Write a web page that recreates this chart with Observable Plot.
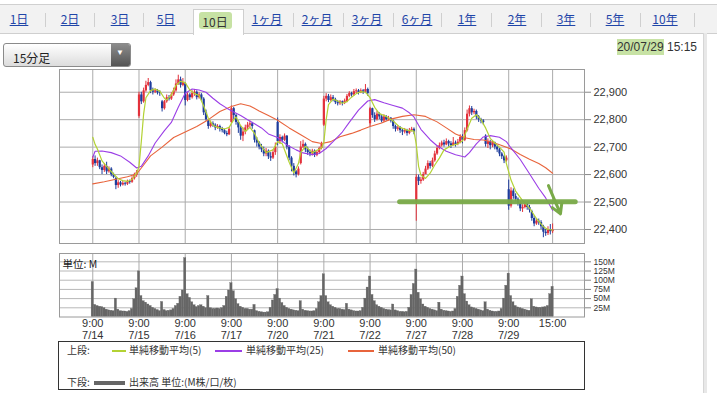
<!DOCTYPE html>
<html><head><meta charset="utf-8">
<script src="https://cdn.jsdelivr.net/npm/d3@7"></script>
<script src="https://cdn.jsdelivr.net/npm/@observablehq/plot@0.6"></script>
<style>
body{margin:0;width:717px;height:393px;overflow:hidden;background:#fff;position:relative;font-family:"Liberation Sans","Noto Sans CJK JP",sans-serif;color:#333}
.abs{position:absolute}
#tabbar{left:0;top:4px;width:717px;height:28px;background:#f2f2f2;border-top:1px solid #d0d0d0;border-bottom:1px solid #cfcfcf}
.tab{position:absolute;top:12px;transform:translateX(-50%);font:12px "Noto Sans CJK JP",sans-serif;color:#1f45a8;text-decoration:underline;line-height:14px;white-space:nowrap}
.sep{position:absolute;top:13px;width:1px;height:14px;background:#cfcfcf}
#seltab{left:193px;top:9px;width:49px;height:25px;background:#fff;border:1px solid #cfcfcf;border-bottom:none}
#selhl{left:199px;top:12px;width:33px;height:17px;background:#c7e2a4;border-radius:3px;filter:blur(0.6px)}
#seltxt{left:215px;top:13px;transform:translateX(-50%);font:12px "Noto Sans CJK JP",sans-serif;color:#333}
#dd{left:3px;top:43px;width:126px;height:22px;border:1px solid #8a8a8a;border-radius:3px;background:linear-gradient(#ffffff,#dcdcdc)}
#ddbtn{right:0;top:0;width:19px;height:22px;background:linear-gradient(#8c8c8c,#545454);border-radius:0 2px 2px 0}
#ddbtn span{position:absolute;left:5px;top:4px;color:#fff;font-size:8px}
#ddtxt{left:9px;top:5px;font:12px "Noto Sans CJK JP",sans-serif;color:#222}
#ts{right:20px;top:40px;font:12px "Liberation Sans",sans-serif;color:#333;white-space:nowrap}
#ts .hl{background:#c7e2a4;padding:1px 0}
#rb{left:703px;top:33px;width:3px;height:360px;background:#e8e8e8;border-left:1px solid #d6d6d6}
#legend{left:58px;top:341px;width:525px;height:47px;border:1px solid #333;font:10px "Noto Sans CJK JP",sans-serif;color:#333}
.lt{position:absolute;white-space:nowrap;line-height:12px}
.ll{position:absolute;height:1.5px}
</style></head><body>
<div id="tabbar" class="abs"></div>
<div id="tabs"></div>
<div id="seltab" class="abs"></div>
<div id="selhl" class="abs"></div>
<div id="seltxt" class="abs">10日</div>
<div id="dd" class="abs"><div id="ddtxt" class="abs">15分足</div><div id="ddbtn" class="abs"><span>▼</span></div></div>
<div id="ts" class="abs"><span class="hl">20/07/29</span> 15:15</div>
<div id="rb" class="abs"></div>
<div id="price" class="abs" style="left:0;top:0"></div>
<div id="vol" class="abs" style="left:0;top:250px"></div>
<div id="legend" class="abs">
  <div class="lt" style="left:8px;top:2px">上段:</div>
  <div class="ll" style="left:53px;top:8px;width:14px;background:#b3d234"></div>
  <div class="lt" style="left:70px;top:2px">単純移動平均(5)</div>
  <div class="ll" style="left:156px;top:8px;width:27px;background:#9b3ee6"></div>
  <div class="lt" style="left:187px;top:2px">単純移動平均(25)</div>
  <div class="ll" style="left:289px;top:8px;width:26px;background:#e8643c"></div>
  <div class="lt" style="left:319px;top:2px">単純移動平均(50)</div>
  <div class="lt" style="left:8px;top:34px">下段:</div>
  <div class="ll" style="left:35px;top:39px;width:31px;height:4px;background:#666"></div>
  <div class="lt" style="left:70px;top:34px">出来高 単位:(M株/口/枚)</div>
</div>
<script>
// ---- tick labels ----
const tickIdx  = [0,20,40,60,80,100,120,140,160,180,199];
const tickTime = ["9:00","9:00","9:00","9:00","9:00","9:00","9:00","9:00","9:00","9:00","15:00"];
const tickDate = ["7/14","7/15","7/16","7/17","7/20","7/21","7/22","7/27","7/28","7/29",""];
const priceTicks = [22400,22500,22600,22700,22800,22900];
const volTicks = [25,50,75,100,125,150];

// ---- header tabs ----
const tabLabels = ["1日","2日","3日","5日","1ヶ月","2ヶ月","3ヶ月","6ヶ月","1年","2年","3年","5年","10年"];
const tabCenters = [19,70,120,166,267,317,367,417,467,517,566,615,665];
const sepX = [45,94,143,293,343,393,441,491,541,590,640,694];

// ---- 15-minute candles (O/H/L/C), 20 bars per day ----
const open = [
22635,22655,22640,22650,22625,22615,22630,22610,22620,22600,22585,22560,22570,22562,22568,22565,22575,22572,22585,22598,
22812,22890,22865,22905,22925,22935,22905,22900,22905,22898,22865,22840,22865,22880,22875,22890,22905,22930,22945,22925,
22930,22870,22890,22880,22895,22900,22880,22890,22875,22825,22795,22775,22785,22780,22770,22775,22765,22760,22750,22745,
22790,22840,22815,22790,22770,22740,22755,22770,22780,22785,22760,22725,22715,22700,22690,22675,22685,22665,22660,22680,
22790,22720,22735,22725,22740,22700,22660,22630,22610,22600,22640,22700,22710,22690,22680,22675,22685,22670,22680,22695,
22780,22875,22885,22870,22880,22872,22862,22858,22865,22860,22865,22885,22895,22890,22902,22905,22898,22905,22900,22910,
22785,22840,22815,22800,22820,22810,22795,22810,22800,22805,22795,22775,22765,22770,22760,22755,22760,22750,22760,22765,
22500,22590,22575,22580,22600,22620,22640,22630,22650,22675,22695,22705,22715,22708,22720,22712,22705,22715,22710,22718,
22735,22725,22760,22820,22840,22825,22830,22810,22800,22795,22740,22710,22720,22705,22715,22700,22690,22675,22665,22650,
22545,22485,22540,22520,22510,22495,22475,22480,22490,22480,22465,22440,22420,22430,22425,22410,22390,22385,22400,22392];
const high = [
22665,22668,22660,22652,22635,22640,22645,22628,22625,22605,22590,22578,22575,22575,22572,22580,22580,22592,22605,22615,
22900,22900,22915,22940,22950,22940,22915,22912,22910,22905,22870,22870,22890,22888,22898,22915,22945,22962,22955,22950,
22935,22898,22895,22905,22910,22905,22898,22895,22880,22835,22800,22795,22792,22785,22782,22780,22772,22765,22758,22772,
22850,22845,22820,22795,22775,22770,22780,22790,22795,22790,22762,22735,22720,22710,22700,22695,22690,22680,22690,22715,
22806,22745,22740,22748,22742,22705,22665,22640,22615,22628,22720,22725,22715,22700,22690,22692,22690,22688,22700,22718,
22885,22895,22892,22890,22888,22878,22870,22870,22868,22875,22892,22902,22900,22910,22912,22910,22912,22910,22928,22915,
22845,22842,22825,22830,22825,22815,22818,22815,22812,22808,22798,22780,22778,22775,22765,22768,22765,22768,22772,22770,
22600,22598,22590,22608,22630,22650,22648,22660,22685,22705,22715,22722,22725,22730,22725,22720,22735,22722,22728,22745,
22745,22770,22835,22850,22848,22838,22835,22815,22805,22800,22745,22730,22725,22722,22718,22705,22695,22680,22670,22668,
22580,22552,22548,22530,22515,22500,22490,22498,22495,22488,22470,22450,22440,22438,22432,22415,22400,22410,22418,22420];
const low = [
22625,22630,22630,22618,22600,22608,22600,22605,22592,22585,22545,22550,22555,22558,22558,22560,22565,22568,22580,22590,
22805,22855,22860,22900,22920,22895,22890,22895,22890,22885,22828,22835,22860,22868,22870,22885,22900,22925,22915,22920,
22850,22865,22870,22875,22885,22872,22875,22868,22815,22795,22765,22770,22772,22760,22765,22755,22752,22745,22738,22742,
22785,22800,22780,22750,22725,22720,22745,22760,22770,22765,22715,22700,22690,22680,22665,22665,22655,22648,22655,22670,
22705,22710,22715,22720,22690,22650,22610,22595,22588,22595,22635,22695,22680,22670,22665,22668,22662,22665,22675,22690,
22775,22865,22862,22865,22865,22855,22850,22852,22850,22855,22862,22880,22882,22885,22895,22890,22895,22892,22895,22885,
22775,22805,22790,22795,22800,22788,22790,22795,22795,22788,22765,22755,22758,22750,22742,22748,22740,22745,22755,22745,
22430,22560,22565,22575,22600,22615,22620,22625,22645,22670,22690,22700,22700,22705,22700,22695,22705,22700,22705,22712,
22712,22720,22755,22810,22815,22818,22800,22790,22785,22780,22700,22695,22690,22698,22690,22680,22665,22655,22640,22645,
22470,22478,22510,22500,22485,22465,22462,22475,22470,22460,22430,22410,22415,22415,22400,22370,22375,22378,22380,22385];
const close = [
22655,22640,22650,22625,22615,22630,22610,22620,22600,22590,22560,22570,22562,22568,22565,22575,22572,22585,22598,22608,
22890,22865,22905,22925,22935,22905,22900,22905,22898,22895,22840,22865,22880,22875,22890,22905,22930,22945,22925,22935,
22870,22890,22880,22895,22900,22880,22890,22875,22825,22800,22775,22785,22780,22770,22775,22765,22760,22750,22745,22765,
22840,22815,22790,22770,22740,22755,22770,22780,22785,22775,22725,22715,22700,22690,22675,22685,22665,22660,22680,22700,
22720,22735,22725,22740,22700,22660,22630,22610,22600,22620,22700,22710,22690,22680,22675,22685,22670,22680,22695,22710,
22875,22885,22870,22880,22872,22862,22858,22865,22860,22868,22885,22895,22890,22902,22905,22898,22905,22900,22910,22895,
22840,22815,22800,22820,22810,22795,22810,22800,22805,22795,22775,22765,22770,22760,22755,22760,22750,22760,22765,22755,
22590,22575,22580,22600,22620,22640,22630,22650,22675,22695,22705,22715,22708,22720,22712,22705,22715,22710,22718,22735,
22725,22760,22820,22840,22825,22830,22810,22800,22795,22790,22710,22720,22705,22715,22700,22690,22675,22665,22650,22660,
22485,22540,22520,22510,22495,22475,22480,22490,22480,22470,22440,22420,22430,22425,22410,22390,22385,22400,22392,22398];

// ---- volume (M) per bar ----
const volume = [
95,33,30,28,27,24,20,18,17,16,50,20,16,15,15,14,16,22,48,78,
124,57,43,39,34,30,25,22,19,16,41,19,16,17,18,22,30,36,55,72,
160,62,52,40,32,27,30,32,28,24,57,24,22,22,23,22,24,30,55,72,
92,70,48,35,28,25,22,22,20,20,33,16,14,13,12,12,13,25,45,60,
76,50,38,30,25,22,20,18,17,16,43,20,17,16,15,15,16,22,40,57,
116,57,40,32,28,25,22,22,20,19,36,20,18,16,15,15,16,25,50,80,
110,60,43,32,28,25,22,20,19,18,34,18,16,14,14,13,14,25,60,90,
129,66,48,34,28,25,22,20,18,16,39,20,17,16,15,14,15,22,55,85,
110,62,42,32,26,24,22,20,18,16,40,20,17,15,14,14,15,22,50,85,
118,57,40,30,26,24,22,20,18,17,48,28,26,25,25,26,27,30,62,82];

// ---- moving averages (bar index, value) ----
const sma5Idx = [0,1,2,4,6,9,11,13,15,17,19,20,21,22,23,25,27,29,31,32,34,36,38,40,42,44,46,48,50,52,54,57,59,61,62,64,66,68,70,72,75,78,80,82,85,87,89,90,92,95,99,100,101,102,104,106,108,110,112,114,116,118,120,122,124,127,130,133,136,139,140,141,142,144,146,148,150,152,155,158,160,162,164,166,168,170,172,174,176,178,179,181,183,186,189,192,195,197,199];
const sma5Val = [22736,22710,22693,22650,22630,22602,22585,22578,22575,22582,22605,22630,22720,22820,22880,22906,22912,22904,22878,22872,22890,22925,22940,22935,22908,22895,22888,22850,22805,22780,22772,22766,22772,22800,22810,22778,22757,22772,22750,22715,22680,22690,22720,22712,22645,22606,22640,22680,22703,22680,22697,22718,22800,22855,22875,22868,22860,22866,22882,22895,22902,22900,22880,22845,22822,22812,22795,22772,22762,22758,22710,22630,22598,22586,22605,22635,22660,22690,22705,22712,22722,22765,22805,22818,22800,22770,22732,22715,22700,22682,22640,22580,22540,22505,22478,22440,22410,22400,22398];
const sma25Idx = [0,1,4,8,12,16,19,21,24,27,31,34,37,40,43,46,49,52,55,58,61,64,67,70,73,76,80,84,88,91,95,98,101,104,108,111,115,119,122,126,130,134,137,139,142,146,149,153,157,161,163,166,169,172,176,179,181,185,189,193,196,199];
const sma25Val = [22663,22685,22686,22680,22668,22645,22624,22630,22668,22715,22760,22790,22845,22896,22912,22908,22900,22878,22858,22842,22828,22815,22800,22785,22770,22748,22735,22708,22690,22679,22672,22677,22695,22720,22755,22790,22835,22868,22873,22862,22852,22842,22825,22810,22765,22727,22705,22685,22672,22664,22680,22712,22737,22742,22736,22720,22697,22655,22603,22550,22515,22470];
const sma50Idx = [0,5,10,15,19,22,25,30,35,40,45,50,55,60,64,68,72,76,80,85,90,95,99,103,107,112,116,120,125,129,134,139,144,149,153,157,161,165,169,173,177,181,185,189,193,196,199];
const sma50Val = [22566,22574,22583,22592,22602,22635,22668,22700,22735,22755,22775,22800,22830,22848,22858,22850,22832,22815,22798,22770,22745,22720,22713,22720,22738,22750,22762,22775,22788,22802,22812,22818,22812,22792,22770,22748,22734,22728,22726,22718,22706,22693,22673,22656,22640,22625,22605];

// ---- hand-drawn annotation (bar index, price) ----
const annotLine = [{x1:133, x2:209, y:22501}];
const annotArrow = [{x1:197.2, y1:22560, x2:202.4, y2:22457}];

// ---- build header ----
const tabsDiv = document.getElementById("tabs");
tabLabels.forEach((t,k)=>{const s=document.createElement("div");s.className="tab";s.style.left=tabCenters[k]+"px";s.textContent=t;tabsDiv.appendChild(s);});
sepX.forEach(x=>{const s=document.createElement("div");s.className="sep";s.style.left=x+"px";tabsDiv.appendChild(s);});

// ---- tables ----
const bars = d3.range(close.length).map(i=>({i,o:open[i],h:high[i],l:low[i],c:close[i],v:volume[i]}));
const up = bars.filter(d=>d.c>=d.o), dn = bars.filter(d=>d.c<d.o);
const s5 = sma5Idx.map((b,k)=>({i:b,v:sma5Val[k]}));
const s25 = sma25Idx.map((b,k)=>({i:b,v:sma25Val[k]}));
const s50 = sma50Idx.map((b,k)=>({i:b,v:sma50Val[k]}));
const ticks = tickIdx.map((b,k)=>({i:b,t:tickTime[k],d:tickDate[k]}));

const RED="#e3313b", BLUE="#1d3c9c", GRID="#ababab", FRAME="#9a9a9a", GREEN="#79aa48";
const xDomain=[-14.4,212.8];
const common = {width:717, marginLeft:59, marginRight:133, style:{background:"transparent",fontFamily:"Liberation Sans",fontSize:"11px",color:"#333",overflow:"visible"}};

const price = Plot.plot({...common, height:250, marginTop:69, marginBottom:7,
  x:{domain:xDomain, axis:null, label:null}, y:{domain:[22348.9,22982.8], axis:null, label:null},
  marks:[
    Plot.ruleY(priceTicks,{stroke:GRID}),
    Plot.ruleX(tickIdx,{stroke:GRID}),
    Plot.frame({stroke:FRAME}),
    Plot.axisY(priceTicks,{anchor:"right",label:null,tickSize:6,tickPadding:3,tickFormat:d3.format(","),stroke:"#888",fill:"#333",fontSize:11}),
    Plot.ruleX(up,{x:"i",y1:"l",y2:"h",stroke:RED,strokeWidth:1}),
    Plot.ruleX(dn,{x:"i",y1:"l",y2:"h",stroke:BLUE,strokeWidth:1}),
    Plot.ruleX(up,{x:"i",y1:"o",y2:"c",stroke:RED,strokeWidth:2.2}),
    Plot.ruleX(dn,{x:"i",y1:"o",y2:"c",stroke:BLUE,strokeWidth:2.2}),
    Plot.line(s50,{x:"i",y:"v",stroke:"#e8643c",strokeWidth:1.1}),
    Plot.line(s25,{x:"i",y:"v",stroke:"#9b3ee6",strokeWidth:1.1}),
    Plot.line(s5,{x:"i",y:"v",stroke:"#b3d234",strokeWidth:1.2}),
    Plot.ruleY(annotLine,{x1:"x1",x2:"x2",y:"y",stroke:GREEN,strokeWidth:5,strokeOpacity:0.95,strokeLinecap:"round"}),
    Plot.arrow(annotArrow,{x1:"x1",y1:"y1",x2:"x2",y2:"y2",stroke:GREEN,strokeWidth:3,headLength:9})
  ]});
document.getElementById("price").appendChild(price);

const vol = Plot.plot({...common, height:95, marginTop:3, marginBottom:28.5,
  x:{domain:xDomain, axis:null, label:null}, y:{domain:[0,172.6], axis:null, label:null},
  marks:[
    Plot.ruleY(volTicks,{stroke:"#b8b8b8"}),
    Plot.ruleX(tickIdx,{stroke:GRID}),
    Plot.rectY(bars,{x1:d=>d.i-0.5,x2:d=>d.i+0.5,y:"v",fill:"#666",stroke:"#666",strokeWidth:0.3}),
    Plot.frame({stroke:FRAME}),
    Plot.axisY(volTicks,{anchor:"right",label:null,tickSize:6,tickPadding:3,tickFormat:d=>d+"M",stroke:"#888",fill:"#333",fontSize:8.5}),
    Plot.text(ticks,{x:"i",text:"t",frameAnchor:"bottom",lineAnchor:"top",dy:2,fontSize:11,fill:"#333"}),
    Plot.text(ticks,{x:"i",text:"d",frameAnchor:"bottom",lineAnchor:"top",dy:14,fontSize:11,fill:"#333"}),
    Plot.text(["単位: M"],{text:d=>d,frameAnchor:"top-left",dx:3,dy:7,textAnchor:"start",fontSize:10.5,fontFamily:"Noto Sans CJK JP",fill:"#222"})
  ]});
document.getElementById("vol").appendChild(vol);
</script>
</body></html>
